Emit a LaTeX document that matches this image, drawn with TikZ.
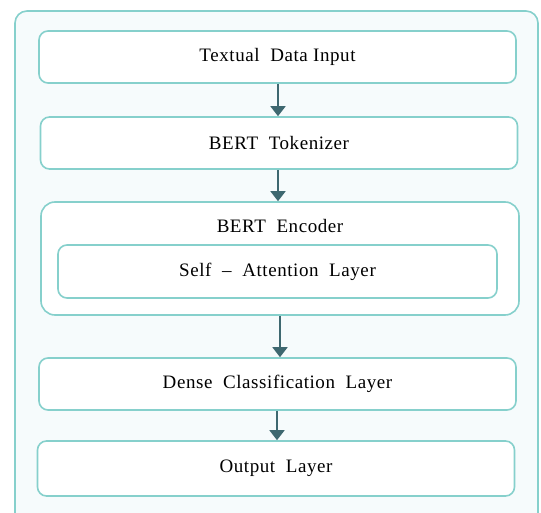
\documentclass[tikz,border=0pt]{standalone}
\usepackage{fontspec}
\setmainfont{Liberation Serif}[LetterSpace=3]
\usetikzlibrary{arrows.meta,positioning}
\definecolor{frameteal}{HTML}{86D0CC}
\definecolor{panelbg}{HTML}{F6FBFC}
\definecolor{arrowteal}{HTML}{3E6870}

\begin{document}
\begin{tikzpicture}[
    x=1pt, y=-1pt,
    blk/.style={draw=frameteal, line width=1.6pt, fill=white, rounded corners=9pt,
      minimum width=477pt, minimum height=52pt, font=\fontsize{19}{22}\selectfont},
    txt/.style={font=\fontsize{19}{22}\selectfont},
    arr/.style={-{Triangle[length=10pt, width=15pt]}, line width=1.8pt, draw=arrowteal, color=arrowteal}
  ]
    \useasboundingbox (0,0) rectangle (541,513);
    % outer panel
    \draw[draw=frameteal, line width=1.6pt, fill=panelbg, rounded corners=12pt]
      (15,11) rectangle (538,530);

    \node[blk] (input) at (277.5,57) {Textual\ \ Data\ Input};
    \node[blk] (tok) at (279,143) {BERT\ \ Tokenizer};
    \node[blk, minimum width=478pt, minimum height=113pt, rounded corners=14pt] (enc) at (280,258.5) {};
    \node[txt] (enclbl) at (280,226) {BERT\ \ Encoder};
    \node[blk, minimum width=439pt, minimum height=53pt] (attn) at (277.5,271.5) {Self\ \ --\ \ Attention\ \ Layer};
    \node[blk] (dense) at (277.5,384) {Dense\ \ Classification\ \ Layer};
    \node[blk, minimum height=55pt] (out) at (276,468.5) {Output\ \ Layer};

    \draw[arr] (input.south -| 278,0) -- (tok.north -| 278,0);
    \draw[arr] (tok.south -| 278,0) -- (enc.north -| 278,0);
    \draw[arr] (enc.south -| 280,0) -- (dense.north -| 280,0);
    \draw[arr] (dense.south -| 277,0) -- (out.north -| 277,0);
  \end{tikzpicture}
\end{document}
